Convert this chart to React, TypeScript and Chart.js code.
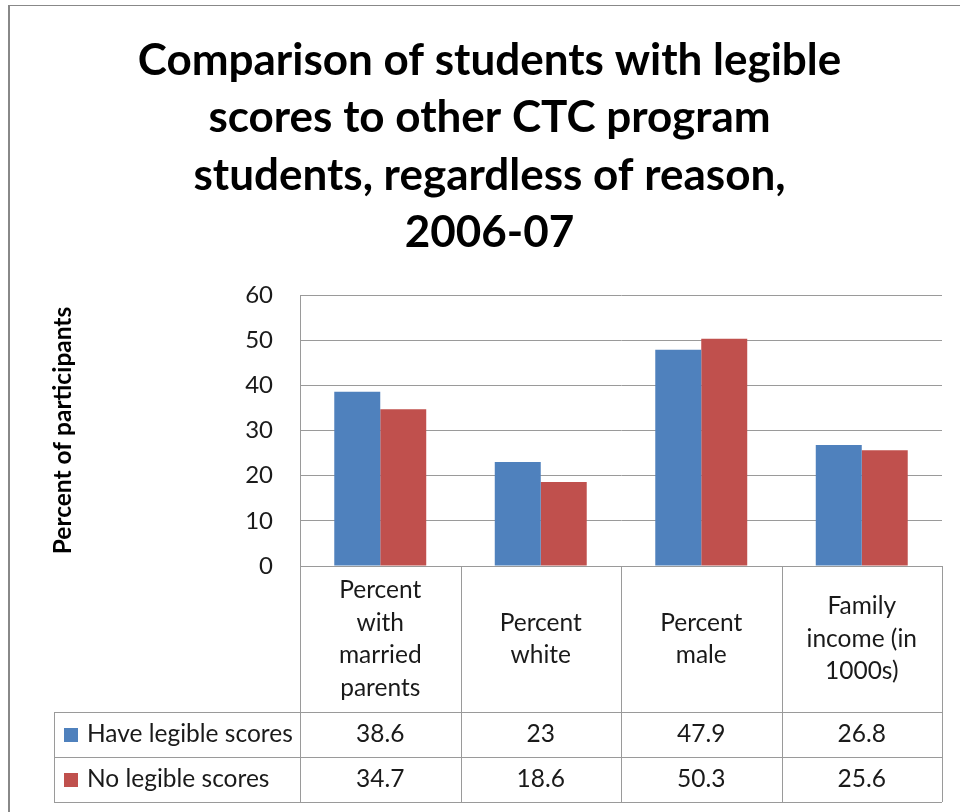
import { useEffect, useRef } from "react";
import { Chart, registerables } from "chart.js";

Chart.register(...registerables);

// Chart text
const titleLines = [
  "Comparison of students with legible",
  "scores to other CTC program",
  "students, regardless of reason,",
  "2006-07",
];
const yAxisTitle = "Percent of participants";

// Categories (each entry is the wrapped header of its table column)
const categories = [
  ["Percent", "with", "married", "parents"],
  ["Percent", "white"],
  ["Percent", "male"],
  ["Family", "income (in", "1000s)"],
];

// Series
const seriesNames = ["Have legible scores", "No legible scores"];
const haveLegibleScores = [38.6, 23, 47.9, 26.8];
const noLegibleScores = [34.7, 18.6, 50.3, 25.6];
const seriesColors = ["#4F81BD", "#C0504D"];

// Value axis
const yMin = 0;
const yMax = 60;
const yStep = 10;

const FONT = "Lato, 'Open Sans', sans-serif";
const LINE = "#9a9a9a";
const TEXT = "#1a1a1a";

const crisp = (v: number) => Math.round(v) + 0.5;

// Draws the outer frame and the data table under the plot
const dataTablePlugin = {
  id: "dataTable",
  beforeDraw(chart: any) {
    const { ctx } = chart;
    ctx.save();
    ctx.strokeStyle = "#888888";
    ctx.lineWidth = 2;
    ctx.beginPath();
    ctx.moveTo(9, 5);
    ctx.lineTo(9, chart.height);
    ctx.stroke();
    ctx.lineWidth = 1;
    ctx.beginPath();
    ctx.moveTo(8, 5.5);
    ctx.lineTo(chart.width, 5.5);
    ctx.stroke();
    ctx.restore();
  },
  afterDraw(chart: any) {
    const { ctx, chartArea } = chart;
    const xs = chart.scales.x;
    const labels = chart.data.labels as string[][];
    const datasets = chart.data.datasets;
    const n = labels.length;
    const step = (xs.right - xs.left) / n;
    const headTop = chartArea.bottom;
    const headBottom = headTop + 146;
    const rowH = 45;
    const labelLeft = 54;
    const tableBottom = headBottom + rowH * datasets.length;

    ctx.save();
    ctx.strokeStyle = LINE;
    ctx.lineWidth = 1;
    const line = (x1: number, y1: number, x2: number, y2: number) => {
      ctx.beginPath();
      ctx.moveTo(x1, y1);
      ctx.lineTo(x2, y2);
      ctx.stroke();
    };
    line(xs.left, crisp(headTop), xs.right, crisp(headTop));
    for (let r = 0; r <= datasets.length; r++) {
      const y = crisp(headBottom + r * rowH);
      line(labelLeft, y, xs.right, y);
    }
    for (let i = 0; i <= n; i++) {
      const x = crisp(xs.left + i * step);
      line(x, headTop, x, tableBottom);
    }
    line(crisp(labelLeft), headBottom, crisp(labelLeft), tableBottom);

    ctx.fillStyle = TEXT;
    ctx.font = `24.5px ${FONT}`;
    ctx.textBaseline = "middle";
    ctx.textAlign = "center";
    const headMid = (headTop + headBottom) / 2;
    const lh = 32.5;
    labels.forEach((lines, i) => {
      const cx = xs.getPixelForValue(i);
      lines.forEach((t, j) => {
        ctx.fillText(t, cx, headMid + (j - (lines.length - 1) / 2) * lh);
      });
    });

    datasets.forEach((ds: any, r: number) => {
      const cy = headBottom + r * rowH + rowH / 2;
      ctx.fillStyle = ds.backgroundColor;
      ctx.fillRect(64, Math.round(cy) - 7, 14, 14);
      ctx.fillStyle = TEXT;
      ctx.textAlign = "left";
      ctx.fillText(ds.label, 87, cy);
      ctx.textAlign = "center";
      (ds.data as number[]).forEach((v, i) => {
        ctx.fillText(String(v), xs.getPixelForValue(i), cy);
      });
    });
    ctx.restore();
  },
};

export default function App() {
  const canvasRef = useRef<HTMLCanvasElement>(null);

  useEffect(() => {
    document.body.style.margin = "0";
    const canvas = canvasRef.current;
    if (!canvas) return;
    const chart = new Chart(canvas, {
      type: "bar",
      data: {
        labels: categories,
        datasets: [
          {
            label: seriesNames[0],
            data: haveLegibleScores,
            backgroundColor: seriesColors[0],
          },
          {
            label: seriesNames[1],
            data: noLegibleScores,
            backgroundColor: seriesColors[1],
          },
        ],
      },
      options: {
        responsive: false,
        animation: false,
        devicePixelRatio: 1,
        datasets: {
          bar: { categoryPercentage: 0.573, barPercentage: 1 },
        },
        layout: { padding: { left: 37, right: 18, top: 0, bottom: 10 } },
        plugins: {
          legend: { display: false },
          tooltip: { enabled: false },
          title: {
            display: true,
            text: titleLines,
            color: "#000",
            font: { family: FONT, size: 44, weight: "bold", lineHeight: 57.5 / 44 },
            padding: { top: 32, bottom: 33 },
          },
        },
        scales: {
          x: {
            grid: { display: false },
            border: { display: false },
            ticks: { display: false },
            afterFit: (scale: any) => {
              scale.height = 236;
            },
          },
          y: {
            min: yMin,
            max: yMax,
            ticks: {
              stepSize: yStep,
              color: TEXT,
              padding: 27,
              font: { family: FONT, size: 24 },
            },
            grid: { color: LINE, lineWidth: 1, drawTicks: false },
            border: { display: true, color: LINE, width: 1 },
            title: {
              display: true,
              text: yAxisTitle,
              color: "#000",
              font: { family: FONT, size: 24.5, weight: "bold", lineHeight: 1.2 },
              padding: { top: 11, bottom: 0 },
            },
            afterFit: (scale: any) => {
              scale.width = 263;
            },
          },
        },
      },
      plugins: [dataTablePlugin],
    });
    return () => chart.destroy();
  }, []);

  return (
    <div style={{ width: 960, height: 812, background: "#fff" }}>
      <canvas ref={canvasRef} width={960} height={812} />
    </div>
  );
}
